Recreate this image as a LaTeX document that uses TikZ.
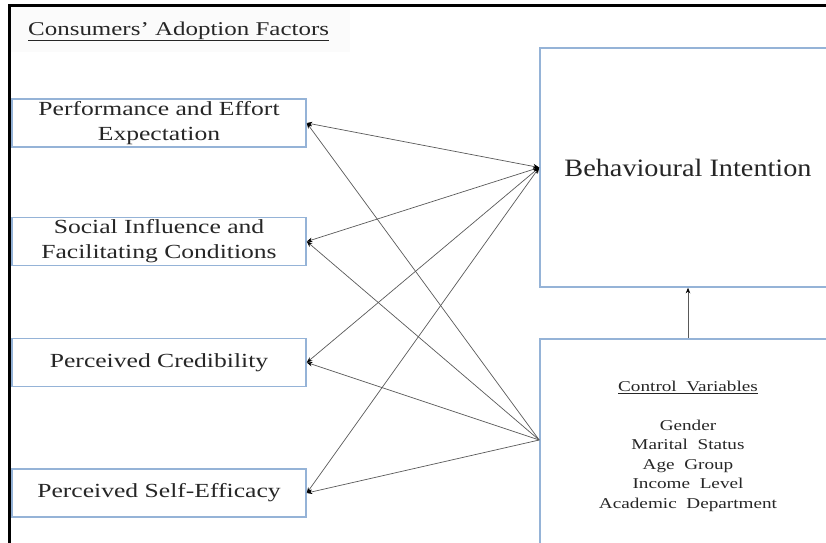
\documentclass[tikz,border=0pt]{standalone}
\usepackage{fontspec}
\setmainfont{Liberation Serif}
\newfontfamily\boxfont[FakeStretch=1.28]{Liberation Serif}
\newfontfamily\bifont[FakeStretch=1.13]{Liberation Serif}
\usetikzlibrary{arrows.meta}
\definecolor{boxblue}{HTML}{95B3D7}
\begin{document}
\begin{tikzpicture}[x=1pt,y=-1pt,
  factor/.style={draw=boxblue,line width=1.6pt,minimum width=294pt,minimum height=48pt,inner sep=0pt,
    align=center,font=\boxfont\fontsize{20}{25}\selectfont,text=black!85},
  bigbox/.style={draw=boxblue,line width=1.6pt,minimum width=296pt,inner sep=0pt,align=center},
  link/.style={draw=black!65,line width=0.7pt},
  tip/.style={-{Stealth[length=5.5pt,width=4.5pt,black]}},
  tipboth/.style={{Stealth[length=6pt,width=5pt,black]}-{Stealth[length=5.5pt,width=4.5pt,black]}}]
\useasboundingbox (0,0) rectangle (826,542);
% faint title background
\fill[black!1.5] (11,7) rectangle (350,52);
% outer frame
\draw[black,line width=3pt] (9.5,545) -- (9.5,5) -- (830,5);
% title
\node[anchor=base west,inner sep=0pt,font=\boxfont\fontsize{19.5}{24}\selectfont,text=black!85] (title) at (28,35) {\underline{Consumers’ Adoption Factors}};
% factor boxes
\node[factor] (p1) at (159,123) {Performance and Effort\\Expectation};
\node[factor] (p2) at (159,241.5) {Social Influence and\\Facilitating Conditions};
\node[factor] (p3) at (159,362.5) {Perceived Credibility};
\node[factor] (p4) at (159,493) {Perceived Self-Efficacy};
% right boxes
\node[bigbox,minimum height=239pt,font=\bifont\fontsize{25}{30}\selectfont,text=black!85] (bi) at (688,167.5) {Behavioural Intention};
\node[bigbox,minimum height=214pt,font=\boxfont\fontsize{15}{19.5}\selectfont,text=black!85] (cv) at (688,446)
  {\underline{Control\ \ Variables}\\[19.5pt]Gender\\Marital\ \ Status\\Age\ \ Group\\Income\ \ Level\\Academic\ \ Department};
\coordinate (cvw) at ([yshift=6pt]cv.west);
% connectors from Behavioural Intention
\foreach \p in {p1,p2,p3,p4}{
  \draw[link,tipboth] (bi.west) -- (\p.east);
}
% connectors from Control Variables
\foreach \p in {p1,p2,p3,p4}{
  \draw[link,tip] (cvw) -- (\p.east);
}
\draw[link,tip] (cv.north) -- (bi.south);
\end{tikzpicture}
\end{document}
